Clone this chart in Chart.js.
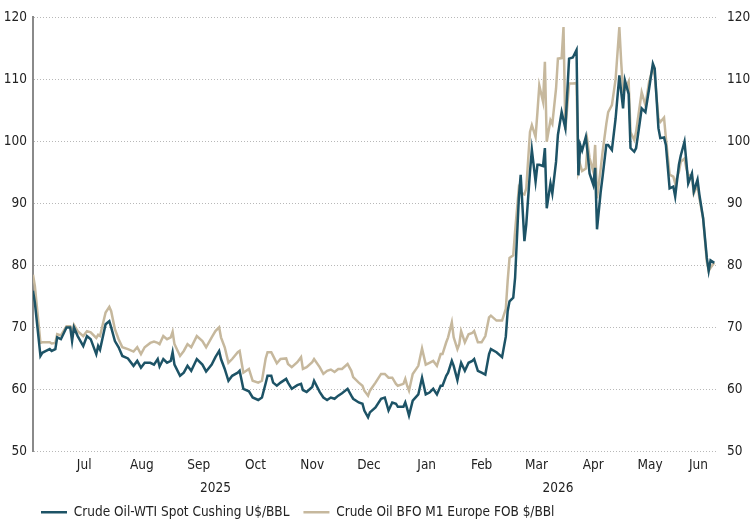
<!DOCTYPE html>
<html>
<head>
<meta charset="utf-8">
<title>Crude oil prices</title>
<script src="https://cdn.jsdelivr.net/npm/chart.js@4.4.1/dist/chart.umd.min.js"></script>
<style>
  html, body { margin: 0; padding: 0; background: #fff; }
  #wrap { width: 752px; height: 529px; position: relative; }
</style>
</head>
<body>
<div id="wrap"><canvas id="oilChart"></canvas></div>
<script>
// days since 1 Jul 2025
const days = [
  -12, -11, -8, -7, -5, -3, -2, 0, 1, 3,
  6, 8, 9, 10, 12, 15, 17, 19, 22, 23,
  24, 27, 29, 30, 32, 34, 36, 39, 42, 44,
  46, 48, 51, 53, 55, 56, 58, 60, 62, 63,
  64, 67, 69, 71, 73, 76, 79, 81, 84, 86,
  88, 89, 91, 93, 95, 98, 99, 101, 104, 106,
  109, 111, 113, 114, 116, 117, 119, 121, 124, 125,
  127, 130, 132, 133, 135, 138, 139, 142, 144, 146,
  148, 150, 152, 154, 157, 159, 160, 163, 165, 166,
  168, 169, 172, 175, 177, 179, 181, 183, 184, 187,
  188, 189, 190, 192, 195, 197, 199, 201, 203, 205,
  207, 208, 210, 211, 213, 214, 216, 217, 218, 220,
  222, 224, 225, 227, 229, 231, 233, 234, 237, 240,
  242, 243, 244, 246, 247, 249, 250, 252, 253, 255,
  256, 258, 259, 260, 262, 263, 264, 266, 267, 269,
  270, 272, 273, 274, 276, 278, 280, 281, 282, 283,
  285, 286, 287, 289, 290, 291, 293, 294, 296, 297,
  299, 301, 303, 304, 305, 306, 308, 309, 311, 312,
  314, 315, 317, 319, 321, 322, 324, 325, 327, 328,
  330, 332, 333, 335, 336, 338, 339, 340, 342, 343,
  345, 346, 348, 350, 351, 352, 354
];

const wti = [
  75.9, 74.0, 65.4, 65.9, 66.2, 66.5, 66.2, 66.5, 68.4, 68.1,
  70.0, 70.0, 67.8, 70.0, 68.6, 67.0, 68.6, 68.1, 65.7, 67.0,
  66.4, 70.5, 71.0, 70.0, 67.8, 66.8, 65.4, 65.0, 63.8, 64.6,
  63.5, 64.3, 64.3, 64.0, 64.9, 63.7, 64.9, 64.3, 64.6, 66.0,
  64.0, 62.2, 62.7, 63.8, 63.0, 64.9, 64.0, 62.9, 64.0, 65.2,
  66.2, 64.9, 63.3, 61.4, 62.2, 62.7, 63.0, 60.1, 59.7, 58.7,
  58.3, 58.7, 61.0, 62.2, 62.2, 61.1, 60.6, 61.1, 61.7, 61.1,
  60.1, 60.7, 60.9, 59.9, 59.6, 60.4, 61.4, 59.6, 58.7, 58.3,
  58.7, 58.5, 59.0, 59.4, 60.1, 59.0, 58.5, 57.9, 57.7, 56.6,
  55.5, 56.3, 57.1, 58.5, 58.7, 56.6, 57.9, 57.7, 57.2, 57.2,
  57.9, 56.9, 55.8, 58.2, 59.2, 61.9, 59.2, 59.5, 60.1, 59.2,
  60.6, 60.6, 62.2, 62.7, 64.6, 63.8, 61.5, 63.0, 64.3, 63.0,
  64.3, 64.6, 64.9, 63.0, 62.7, 62.4, 65.7, 66.5, 66.0, 65.2,
  68.5, 72.6, 74.2, 74.8, 78.0, 90.8, 94.6, 83.9, 86.6, 95.1,
  98.6, 93.5, 96.2, 96.2, 96.0, 98.9, 89.2, 93.2, 91.6, 96.7,
  101.0, 104.7, 103.4, 102.1, 113.3, 113.5, 114.7, 94.5, 99.4, 98.5,
  100.7, 98.0, 94.8, 93.0, 95.7, 85.8, 91.9, 94.3, 99.4, 99.4,
  98.6, 103.7, 110.6, 107.9, 105.3, 109.8, 107.6, 98.9, 98.3, 98.9,
  103.1, 105.3, 104.7, 108.5, 112.5, 111.7, 102.1, 100.5, 100.6, 99.4,
  92.4, 92.7, 91.1, 96.2, 97.7, 99.9, 96.7, 93.2, 94.8, 91.9,
  93.8, 91.4, 87.6, 81.2, 79.1, 80.8, 80.4
];

const brent = [
  78.5, 76.7, 67.5, 67.6, 67.6, 67.6, 67.4, 67.5, 68.9, 68.7,
  70.2, 70.2, 68.9, 70.4, 69.4, 68.6, 69.4, 69.2, 68.3, 68.8,
  68.6, 72.4, 73.3, 72.6, 69.7, 68.1, 66.8, 66.5, 66.1, 66.8,
  65.7, 66.8, 67.5, 67.7, 67.5, 67.3, 68.6, 68.1, 68.4, 69.3,
  67.3, 65.4, 66.2, 67.3, 66.8, 68.6, 67.8, 66.8, 68.4, 69.4,
  70.0, 68.4, 66.8, 64.3, 64.9, 66.0, 66.2, 62.7, 63.3, 61.4,
  61.1, 61.4, 65.0, 66.0, 66.0, 65.4, 64.2, 64.9, 65.0, 64.1,
  63.6, 64.4, 65.2, 63.3, 63.6, 64.4, 64.9, 63.6, 62.5, 63.0,
  63.2, 62.8, 63.3, 63.3, 64.1, 63.0, 62.0, 61.1, 60.6, 59.8,
  59.0, 59.8, 61.1, 62.5, 62.5, 61.9, 61.9, 60.9, 60.6, 60.9,
  61.7, 60.6, 59.8, 62.5, 63.8, 66.6, 64.0, 64.3, 64.6, 63.8,
  65.7, 65.7, 67.6, 68.4, 70.8, 68.4, 66.5, 67.3, 69.4, 67.6,
  68.9, 69.1, 69.4, 67.6, 67.6, 68.6, 71.6, 71.9, 71.1, 71.1,
  73.0, 77.5, 81.2, 81.6, 85.5, 92.4, 91.7, 91.4, 92.4, 101.5,
  102.6, 100.7, 104.7, 109.0, 106.4, 112.8, 99.9, 103.4, 102.8, 108.5,
  113.3, 113.4, 118.4, 101.8, 109.3, 109.3, 109.4, 95.1, 96.2, 95.2,
  95.6, 99.6, 97.3, 95.1, 99.4, 90.8, 95.6, 98.3, 102.8, 104.7,
  105.8, 110.0, 118.4, 112.7, 108.1, 108.3, 109.6, 101.5, 100.2, 101.5,
  105.8, 107.9, 105.8, 109.6, 111.9, 110.6, 103.7, 103.1, 103.8, 100.5,
  94.6, 94.3, 93.2, 95.1, 96.7, 97.2, 95.6, 94.6, 94.3, 91.6,
  93.0, 90.8, 87.6, 80.6, 79.1, 79.6, 80.4
];

// axis: 19 Jun 2025 .. 22 Jun 2026
const xMin = -12;
const xMax = 356;
const monthStarts = [0, 31, 62, 92, 123, 153, 184, 215, 243, 274, 304, 335, 365];
const monthLabels = ['Jul', 'Aug', 'Sep', 'Oct', 'Nov', 'Dec', 'Jan', 'Feb', 'Mar', 'Apr', 'May', 'Jun'];
const yearStarts = [xMin, 184, xMax];
const yearLabels = ['2025', '2026'];

// labels sit in the middle of the visible part of each period
function midTicks(starts, count) {
  const out = [];
  for (let i = 0; i < count; i++) {
    const a = Math.max(starts[i], xMin);
    const b = Math.min(starts[i + 1], xMax);
    out.push({ value: (a + b) / 2 });
  }
  return out;
}

const fontFamily = "'DejaVu Sans Condensed', 'Liberation Sans Narrow', sans-serif";
const fontSize = 13.5;
const textColor = '#222';
const wtiColor = '#1d5366';
const brentColor = '#c6b89d';

const toPoints = (vals) => days.map((d, i) => ({ x: d, y: vals[i] }));

// nudge the legend under the plot's left edge and up against the year row
const legendPlacer = {
  id: 'legendPlacer',
  afterLayout(chart) {
    const lg = chart.legend;
    if (!lg) return;
    lg.left += 27;
    lg.right += 27;
    lg.top -= 6;
    lg.bottom -= 6;
  }
};

new Chart(document.getElementById('oilChart'), {
  type: 'line',
  data: {
    datasets: [
      {
        label: 'Crude Oil-WTI Spot Cushing U$/BBL',
        data: toPoints(wti),
        borderColor: wtiColor,
        backgroundColor: wtiColor,
        borderWidth: 2.5,
        pointRadius: 0,
        tension: 0
      },
      {
        label: 'Crude Oil BFO M1 Europe FOB $/BBl',
        data: toPoints(brent),
        borderColor: brentColor,
        backgroundColor: brentColor,
        borderWidth: 2.5,
        pointRadius: 0,
        tension: 0
      }
    ]
  },
  plugins: [legendPlacer],
  options: {
    responsive: true,
    maintainAspectRatio: false,
    animation: false,
    devicePixelRatio: 1,
    layout: { padding: { top: 15, left: 0, right: 0, bottom: -6 } },
    plugins: {
      tooltip: { enabled: false },
      legend: {
        position: 'bottom',
        align: 'start',
        labels: {
          usePointStyle: true,
          pointStyle: 'line',
          pointStyleWidth: 26,
          padding: 14,
          color: textColor,
          font: { family: fontFamily, size: fontSize }
        }
      }
    },
    scales: {
      x: {
        type: 'linear',
        position: 'bottom',
        min: xMin,
        max: xMax,
        weight: 0,
        grid: { display: false, drawTicks: false },
        border: { display: false },
        afterBuildTicks: (scale) => { scale.ticks = midTicks(monthStarts, monthLabels.length); },
        afterFit: (scale) => { scale.height = 22; },
        ticks: {
          autoSkip: false,
          maxRotation: 0,
          padding: 6,
          color: textColor,
          font: { family: fontFamily, size: fontSize },
          callback: (v, i) => monthLabels[i]
        }
      },
      xYear: {
        type: 'linear',
        position: 'bottom',
        min: xMin,
        max: xMax,
        weight: 1,
        grid: { display: false, drawTicks: false },
        border: { display: false },
        afterBuildTicks: (scale) => { scale.ticks = midTicks(yearStarts, yearLabels.length); },
        afterFit: (scale) => { scale.height = 24; },
        ticks: {
          autoSkip: false,
          maxRotation: 0,
          padding: 7,
          color: textColor,
          font: { family: fontFamily, size: fontSize },
          callback: (v, i) => yearLabels[i]
        }
      },
      y: {
        position: 'left',
        min: 50,
        max: 120,
        afterFit: (scale) => { scale.width = 33; },
        grid: { color: '#b8b8b8', lineWidth: 1, drawTicks: false },
        border: { display: true, color: '#8a8a8a', width: 2, dash: [1, 2] },
        ticks: {
          stepSize: 10,
          padding: 6,
          color: textColor,
          font: { family: fontFamily, size: fontSize }
        }
      },
      y2: {
        position: 'right',
        min: 50,
        max: 120,
        afterFit: (scale) => { scale.width = 34; },
        grid: { display: false, drawTicks: false },
        border: { display: false },
        ticks: {
          stepSize: 10,
          padding: 9,
          color: textColor,
          font: { family: fontFamily, size: fontSize }
        }
      }
    }
  }
});
</script>
</body>
</html>
